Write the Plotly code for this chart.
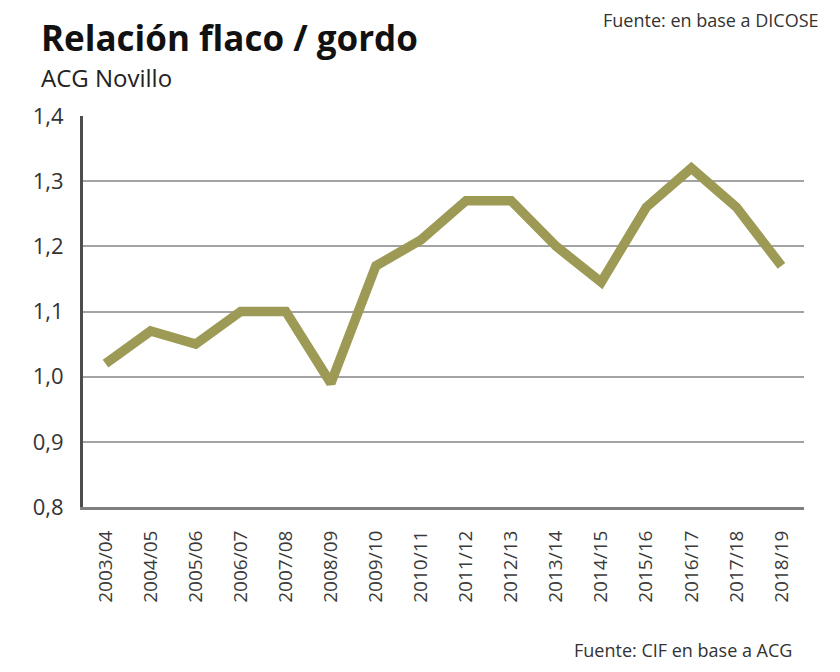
import plotly.graph_objects as go

categories = ["2003/04", "2004/05", "2005/06", "2006/07", "2007/08", "2008/09",
              "2009/10", "2010/11", "2011/12", "2012/13", "2013/14", "2014/15",
              "2015/16", "2016/17", "2017/18", "2018/19"]
ratio = [1.02, 1.07, 1.05, 1.10, 1.10, 0.99, 1.17, 1.21, 1.27, 1.27,
         1.20, 1.145, 1.26, 1.32, 1.26, 1.17]
y_ticks = [0.8, 0.9, 1.0, 1.1, 1.2, 1.3, 1.4]
y_tick_labels = ["0,8", "0,9", "1,0", "1,1", "1,2", "1,3", "1,4"]

FONT = "'Open Sans', sans-serif"

fig = go.Figure()
fig.add_trace(go.Scatter(
    x=categories, y=ratio, mode="lines",
    line=dict(color="#9c9a55", width=9.5),
    hoverinfo="x+y", showlegend=False,
))

fig.update_layout(
    width=840, height=672,
    margin=dict(l=75, r=44, t=108, b=173),
    paper_bgcolor="white", plot_bgcolor="white",
    font=dict(family=FONT, color="#333333"),
    xaxis=dict(
        type="category", range=[-0.5, 15.5],
        showgrid=False, tickangle=-90,
        tickfont=dict(size=19, color="#3a3a3a", family=FONT),
        showline=True, linecolor="#7f7f7f", linewidth=3,
        ticks="", ticklabelstandoff=13,
    ),
    yaxis=dict(
        range=[0.8, 1.4], tickvals=y_ticks, ticktext=y_tick_labels,
        showgrid=True, gridcolor="#a3a3a3", gridwidth=2,
        zeroline=False,
        showline=True, linecolor="#4d4d4d", linewidth=3,
        ticks="", ticklabelstandoff=12,
        tickfont=dict(size=22, color="#333333", family=FONT),
    ),
    annotations=[
        dict(text="<b>Relación flaco / gordo</b>", xref="paper", yref="paper",
             x=-0.061, y=1.201, xanchor="left", yanchor="middle", showarrow=False,
             font=dict(size=35, color="#111111", family=FONT)),
        dict(text="ACG Novillo", xref="paper", yref="paper",
             x=-0.061, y=1.098, xanchor="left", yanchor="middle", showarrow=False,
             font=dict(size=24, color="#222222", family=FONT)),
        dict(text="Fuente: en base a DICOSE", xref="paper", yref="paper",
             x=1.024, y=1.245, xanchor="right", yanchor="middle", showarrow=False,
             font=dict(size=18, color="#333333", family=FONT)),
        dict(text="Fuente: CIF en base a ACG", xref="paper", yref="paper",
             x=0.986, y=-0.366, xanchor="right", yanchor="middle", showarrow=False,
             font=dict(size=18, color="#333333", family=FONT)),
    ],
)

fig.write_html("out.html")
